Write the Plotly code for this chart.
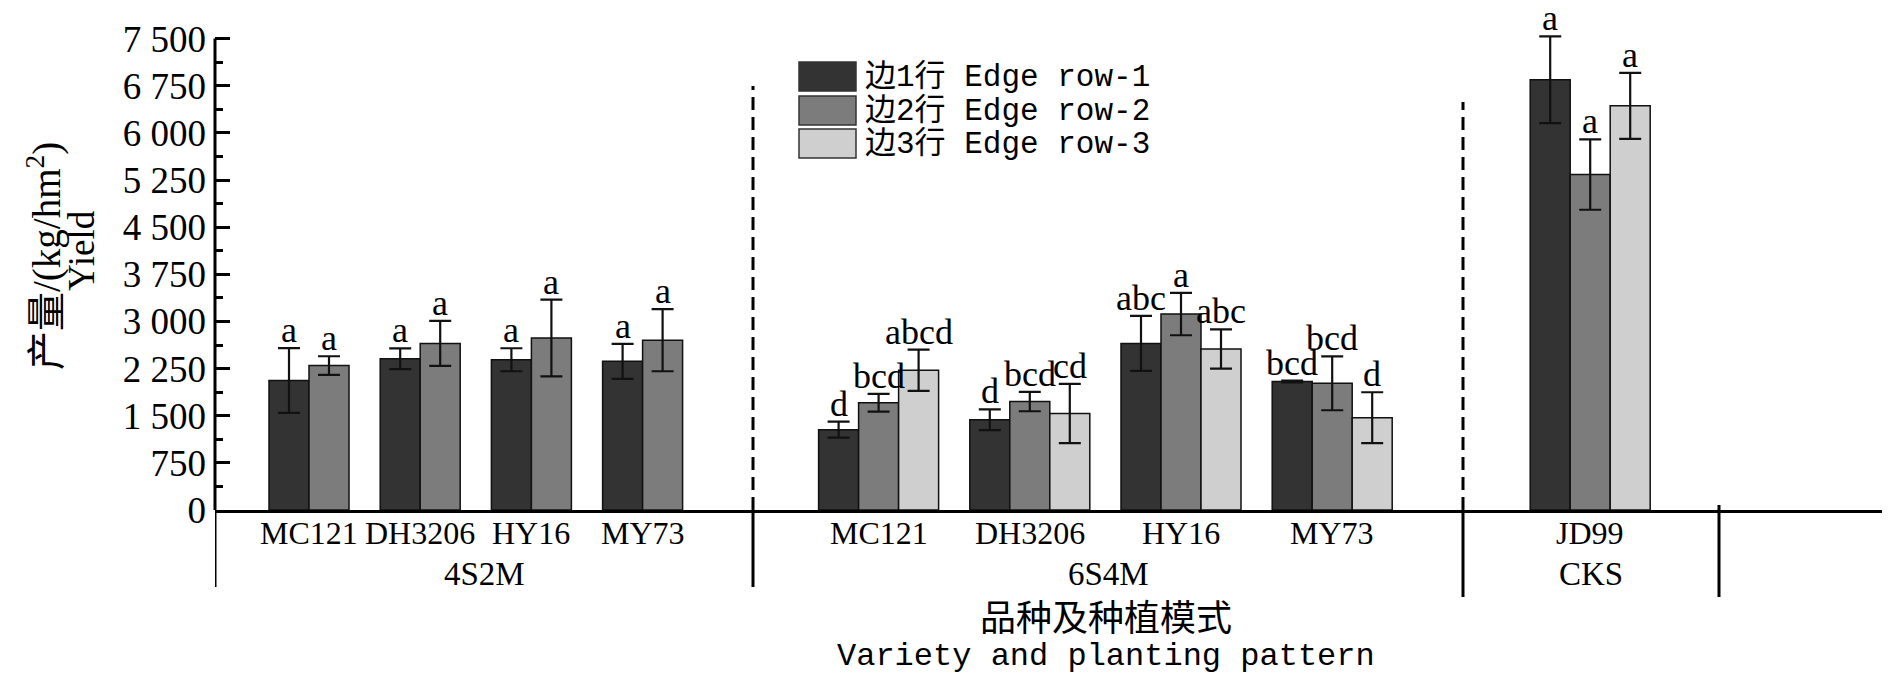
import plotly.graph_objects as go

# -------------------- 数据 --------------------
pattern_of = ["4S2M", "4S2M", "4S2M", "4S2M", "6S4M", "6S4M", "6S4M", "6S4M", "CKS"]
variety = ["MC121", "DH3206", "HY16", "MY73", "MC121", "DH3206", "HY16", "MY73", "JD99"]
patterns = ["4S2M", "6S4M", "CKS"]

row_names = ["边1行 Edge row-1", "边2行 Edge row-2", "边3行 Edge row-3"]

row1_yield = [2060, 2405, 2390, 2365, 1278, 1435, 2650, 2045, 6845]
row1_sd = [515, 165, 183, 278, 128, 165, 437, 15, 690]
row1_sig = ["a", "a", "a", "a", "d", "d", "abc", "bcd", "a"]

row2_yield = [2298, 2650, 2737, 2702, 1706, 1725, 3117, 2016, 5337]
row2_sd = [148, 358, 610, 495, 140, 154, 337, 429, 560]
row2_sig = ["a", "a", "a", "a", "bcd", "bcd", "a", "bcd", "a"]

row3_yield = [None, None, None, None, 2224, 1536, 2560, 1468, 6430]
row3_sd = [None, None, None, None, 328, 472, 312, 405, 525]
row3_sig = [None, None, None, None, "abcd", "cd", "abc", "d", "a"]

y_tickvals = [0, 750, 1500, 2250, 3000, 3750, 4500, 5250, 6000, 6750, 7500]
y_ticktext = ["0", "750", "1 500", "2 250", "3 000", "3 750", "4 500", "5 250", "6 000", "6 750", "7 500"]

# -------------------- 版式 --------------------
W, H = 1890, 690
Y_MAX = 7500       # 纵轴线画到的位置
Y_TOP = 7700       # 留一点空间给最高的字母
M_L, M_R, M_T, M_B = 207, 9, 18, 188
PLOT_W = W - M_L - M_R
PLOT_H = H - M_T - M_B
PLOT_BOTTOM = H - M_B

BAR = 1.0          # 横轴单位 = 一根柱子的宽度
GAP = 0.78         # 品种之间的空隙
seg_width = {"4S2M": 13.45, "6S4M": 17.75, "CKS": 6.4}
seg_pad = {"4S2M": 1.35, "6S4M": 1.64, "CKS": 1.68}
X_END = PLOT_W / 40.0

colors = ["#333333", "#7c7c7c", "#cfcfcf"]
SERIF = "Liberation Serif, Noto Sans CJK SC"
MONO = "Liberation Mono, Noto Sans CJK SC"


def paper_x(p):
    return (p - M_L) / PLOT_W


def paper_y(p):
    return (PLOT_BOTTOM - p) / PLOT_H


rows = [
    (row1_yield, row1_sd, row1_sig),
    (row2_yield, row2_sd, row2_sig),
    (row3_yield, row3_sd, row3_sig),
]

# 计算柱子位置
bar_x = [[None] * len(variety) for _ in rows]
tick_x = []
seg_edges = []
cursor = 0.0
for p in patterns:
    idx = [i for i in range(len(variety)) if pattern_of[i] == p]
    x = cursor + seg_pad[p]
    for i in idx:
        start = x
        for k, r in enumerate(rows):
            if r[0][i] is not None:
                bar_x[k][i] = x + BAR / 2
                x += BAR
        tick_x.append((start + x) / 2)
        x += GAP
    seg_edges.append((cursor, cursor + seg_width[p], p))
    cursor += seg_width[p]

fig = go.Figure()
annotations = []

for k, (vals, sds, sigs) in enumerate(rows):
    keep = [i for i in range(len(variety)) if vals[i] is not None]
    fig.add_trace(go.Bar(
        x=[bar_x[k][i] for i in keep],
        y=[vals[i] for i in keep],
        width=BAR,
        name=row_names[k],
        marker=dict(color=colors[k], line=dict(color="#111111", width=1.5)),
        error_y=dict(type="data", array=[sds[i] for i in keep], color="#111111", thickness=2.2, width=11),
        showlegend=False,
    ))
    # 显著性字母
    for i in keep:
        annotations.append(dict(xref="x", yref="y", x=bar_x[k][i], y=vals[i] + sds[i],
                                text=sigs[i], showarrow=False, yanchor="bottom", yshift=-4,
                                font=dict(family=SERIF, size=36, color="black")))

# 品种标签
for xt, v in zip(tick_x, variety):
    annotations.append(dict(xref="x", yref="paper", x=xt, y=paper_y(525), text=v,
                            showarrow=False, yanchor="middle",
                            font=dict(family=SERIF, size=32, color="black")))

# 种植模式标签
for x0, x1, p in seg_edges:
    annotations.append(dict(xref="x", yref="paper", x=(x0 + x1) / 2, y=paper_y(566),
                            text=p, showarrow=False, yanchor="middle",
                            font=dict(family=SERIF, size=33, color="black")))

# 纵轴线（只到 7 500）
shapes = [dict(type="line", xref="paper", yref="y", x0=0, x1=0, y0=0, y1=Y_MAX,
               line=dict(color="black", width=3))]

# 分组分隔线
below = [579, 579, 589, 589]
edges = [e[0] for e in seg_edges] + [seg_edges[-1][1]]
for j, xe in enumerate(edges):
    top = 0 if j < 3 else paper_y(497)
    shapes.append(dict(type="line", xref="x", yref="paper", x0=xe, x1=xe,
                       y0=top, y1=paper_y(below[j]), line=dict(color="black", width=3)))
dash_top = [78, 94]
for j, xe in enumerate(edges[1:3]):
    shapes.append(dict(type="line", xref="x", yref="paper", x0=xe, x1=xe,
                       y0=0, y1=paper_y(dash_top[j]),
                       line=dict(color="black", width=3, dash="13px,7px")))

# 图例（手绘）
sw_top = [54, 88, 121]
for k in range(3):
    shapes.append(dict(type="rect", xref="paper", yref="paper",
                       x0=paper_x(791), x1=paper_x(848),
                       y0=paper_y(sw_top[k] + 29), y1=paper_y(sw_top[k]),
                       fillcolor=colors[k], line=dict(color="#333333", width=1.5)))
    annotations.append(dict(xref="paper", yref="paper", x=paper_x(855), y=paper_y(sw_top[k] + 15),
                            text=row_names[k], showarrow=False, xanchor="left", yanchor="middle",
                            font=dict(family=MONO, size=31, color="black")))

annotations += [
    dict(xref="paper", yref="paper", x=paper_x(1098), y=paper_y(607), text="品种及种植模式",
         showarrow=False, yanchor="middle", font=dict(family="Noto Sans CJK SC", size=36, color="black")),
    dict(xref="paper", yref="paper", x=paper_x(1098), y=paper_y(648), text="Variety and planting pattern",
         showarrow=False, yanchor="middle", font=dict(family=MONO, size=32, color="black")),
    dict(xref="paper", yref="paper", x=paper_x(36), y=paper_y(248), text="产量/(kg/hm<sup>2</sup>)",
         textangle=-90, showarrow=False, xanchor="center", yanchor="middle",
         font=dict(family=SERIF, size=39, color="black")),
    dict(xref="paper", yref="paper", x=paper_x(74), y=paper_y(243), text="Yield",
         textangle=-90, showarrow=False, xanchor="center", yanchor="middle",
         font=dict(family=SERIF, size=37, color="black")),
]

fig.update_layout(
    width=W, height=H,
    margin=dict(l=M_L, r=M_R, t=M_T, b=M_B, autoexpand=False),
    plot_bgcolor="white", paper_bgcolor="white",
    barmode="overlay",
    shapes=shapes,
    annotations=annotations,
    xaxis=dict(range=[0, X_END], showgrid=False, zeroline=False, showline=True,
               linecolor="black", linewidth=3, ticks="", showticklabels=False),
    yaxis=dict(range=[0, Y_TOP], showgrid=False, zeroline=False, showline=False,
               ticks="inside", ticklen=15, tickwidth=3,
               tickcolor="black", tickvals=y_tickvals, ticktext=y_ticktext,
               ticklabelstandoff=8,
               tickfont=dict(family=SERIF, size=37, color="black"),
               minor=dict(ticks="inside", ticklen=8, tickwidth=3, tickcolor="black", dtick=375, tick0=0)),
)

fig.write_html("out.html")
